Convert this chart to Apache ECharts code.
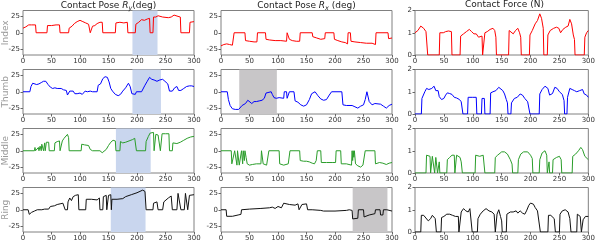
<!DOCTYPE html>
<html><head><meta charset="utf-8">
<script src="https://cdn.jsdelivr.net/npm/echarts@6/dist/echarts.min.js"></script>
<style>html,body{margin:0;padding:0;background:#fff}#c{width:598px;height:246px}</style>
</head><body><div id="c"></div>
<script>
const rowNames = ['Index','Thumb','Middle','Ring'];
const xTicks = [0,50,100,150,200,250,300];
const poseTicks = [-25,0,25];
const forceTicks = [0,1,2];

const indexRy = [[0,7],[5,9],[10,12],[15,12],[22,12],[23,0],[42,0],[43,11],[50,11],[58,12],[64,12],[65,0],[80,0],[81,7],[84,8],[86,10],[90,14],[95,17],[100,19],[105,17],[110,15],[115,13],[117,13],[118,0],[121,0],[122,10],[126,11],[130,14],[135,16],[139,16],[140,0],[162,0],[163,15],[170,16],[177,15],[183,16],[184,0],[197,0],[198,13],[203,16],[208,20],[213,19],[218,21],[222,22],[223,0],[228,0],[229,24],[233,24],[237,26],[245,24],[255,23],[260,24],[265,27],[268,28],[272,25],[276,24],[277,0],[292,0],[293,16],[296,18],[300,17]];
const indexRx = [[0,-20],[5,-18],[10,-17],[15,-18],[20,-19],[22,-20],[23,0],[42,0],[43,-12],[50,-13],[58,-14],[63,-14],[64,0],[78,0],[79,-10],[85,-11],[95,-12],[105,-12],[115,-13],[116,0],[119,0],[120,-10],[125,-12],[132,-13],[138,-13],[139,0],[160,0],[161,-6],[168,-8],[175,-10],[182,-9],[183,0],[198,0],[199,-10],[205,-12],[212,-14],[218,-15],[222,-17],[223,0],[227,0],[228,-13],[235,-14],[245,-15],[255,-16],[265,-16],[271,-18],[272,0],[293,0],[294,-9],[300,-8]];
const indexF = [[0,1.0],[5,1.1],[10,1.3],[15,1.2],[19,1.05],[21,1.0],[22,0],[42,0],[43,1.0],[46,1.05],[49,1.0],[53,1.05],[58,1.08],[61,1.1],[63,1.05],[64,0],[78,0],[79,0.85],[84,0.95],[89,1.05],[94,1.15],[98,1.05],[102,0.95],[106,0.95],[110,0.8],[113,0.85],[116,0.85],[117,0],[120,0],[121,1.0],[125,1.05],[130,1.15],[135,1.2],[138,1.1],[140,0.8],[141,0],[162,0],[163,1.1],[166,1.15],[170,0.95],[174,1.1],[178,1.2],[181,1.0],[183,0.8],[184,0],[198,0],[199,0.9],[203,1.1],[208,1.4],[212,1.55],[216,1.85],[219,1.65],[222,1.2],[223,0],[229,0],[230,0.9],[234,1.1],[240,1.2],[245,1.25],[249,1.2],[252,1.0],[256,1.15],[261,1.25],[265,1.3],[268,1.6],[271,1.4],[274,0.9],[276,0.7],[277,0],[293,0],[294,0.8],[297,1.0],[300,1.1]];

const thumbRy = [[0,0],[12,0],[14,8],[17,13],[20,15],[24,11],[28,12],[32,14],[36,16],[40,16],[44,11],[48,7],[52,5],[56,6],[60,5],[63,4],[67,5],[71,3],[76,2],[78,-5],[80,-4],[82,1],[88,1],[91,-3],[95,-3],[100,-2],[104,-4],[106,-3],[109,1],[113,0],[118,1],[122,0],[130,0],[132,10],[136,12],[140,20],[144,23],[148,22],[151,15],[154,5],[157,1],[162,-4],[167,-6],[171,-4],[175,1],[180,6],[185,13],[188,8],[191,-3],[194,-6],[197,-4],[199,0],[208,0],[210,2],[214,10],[218,16],[222,22],[226,19],[230,18],[235,16],[240,18],[245,19],[249,16],[254,12],[257,1],[262,1],[266,6],[270,8],[273,2],[277,2],[282,5],[287,8],[292,9],[296,9],[300,8]];
const thumbRx = [[0,0],[11,0],[13,-12],[16,-21],[20,-26],[25,-27],[31,-27],[34,-24],[37,-21],[40,-22],[43,-18],[47,-13],[50,-15],[54,-18],[58,-15],[62,-15],[67,-14],[72,-13],[76,-10],[79,-2],[82,0],[88,0],[90,-4],[93,-9],[97,-10],[102,-9],[110,-10],[111,0],[115,0],[116,-10],[119,-10],[120,0],[128,0],[130,-14],[135,-16],[140,-20],[145,-22],[150,-20],[155,-12],[159,-3],[162,0],[165,0],[170,-6],[175,-11],[180,-13],[185,-12],[190,-5],[194,0],[212,0],[214,-20],[220,-21],[230,-21],[235,-23],[240,-25],[245,-22],[250,-20],[253,-12],[256,0],[258,-2],[260,-15],[265,-20],[270,-18],[280,-19],[285,-22],[290,-25],[295,-21],[300,-19]];
const thumbF = [[0,0],[11,0],[12,0.7],[14,0.75],[17,1.0],[20,1.15],[24,1.1],[29,1.15],[33,1.25],[36,1.05],[40,1.05],[42,0.78],[46,0.65],[50,0.7],[53,0.85],[56,0.95],[60,0.92],[64,0.88],[68,0.75],[72,0.72],[77,0.65],[80,0.55],[82,0.5],[83,0],[91,0],[92,0.75],[95,0.8],[100,0.75],[106,0.75],[107,0],[115,0],[116,0.7],[118,0.75],[120,0.7],[121,0],[130,0],[131,0.95],[135,1.0],[140,1.05],[145,1.2],[148,1.25],[152,1.05],[155,0.9],[158,0.65],[160,0.5],[161,0],[166,0],[167,0.5],[172,0.7],[177,0.75],[182,0.9],[186,0.85],[190,0.7],[195,0.55],[198,0.5],[199,0],[215,0],[216,0.9],[220,1.1],[225,1.25],[230,1.15],[233,0.85],[238,0.92],[242,1.2],[246,1.15],[250,1.0],[255,0.88],[258,0.6],[259,0],[263,0],[264,0.75],[268,1.15],[272,1.1],[276,1.05],[280,1.0],[285,1.05],[290,1.1],[293,0.9],[297,0.85],[300,0.75]];

const middleRy = [[0,0],[20,0],[21,5],[22,0],[24,3],[27,5],[28,0],[30,7],[31,10],[32,0],[33,10],[35,13],[36,0],[38,12],[39,0],[41,13],[45,13],[46,0],[55,0],[56,12],[60,14],[64,15],[65,0],[68,0],[69,15],[72,19],[75,22],[78,25],[80,20],[81,0],[102,0],[103,10],[108,9],[115,8],[118,2],[122,0],[135,0],[139,-3],[142,-2],[146,2],[150,8],[154,13],[158,16],[162,15],[163,0],[170,0],[171,14],[175,12],[180,13],[186,15],[192,17],[196,19],[198,16],[199,0],[215,0],[216,14],[220,22],[223,27],[226,26],[229,28],[230,0],[232,0],[233,25],[237,24],[240,23],[241,0],[243,0],[244,26],[250,26],[256,26],[257,0],[262,0],[263,12],[270,11],[276,13],[282,16],[288,19],[294,21],[300,22]];
const middleRx = [[0,0],[18,0],[19,-20],[22,-22],[24,0],[27,0],[28,-22],[29,0],[31,0],[32,-22],[35,-22],[36,0],[38,-20],[39,0],[41,-15],[42,0],[44,-10],[46,-20],[50,-22],[55,-21],[62,-20],[70,-20],[71,0],[73,0],[74,-20],[80,-22],[83,-21],[84,0],[102,0],[103,-20],[110,-22],[118,-20],[120,-20],[121,0],[138,0],[139,-15],[145,-16],[150,-16],[155,-17],[160,-19],[164,-20],[167,-15],[169,0],[175,0],[176,-18],[185,-18],[195,-18],[201,-18],[202,0],[210,0],[211,-20],[220,-20],[229,-22],[230,0],[231,-15],[232,0],[233,-10],[234,0],[236,-20],[240,-23],[245,-25],[249,-22],[252,-20],[253,0],[270,0],[271,-20],[278,-18],[284,-19],[290,-21],[295,-19],[300,-18]];
const middleF = [[0,0],[19,0],[20,0.8],[23,0.8],[26,0.75],[27,0],[29,0],[30,0.75],[33,0.75],[34,0],[36,0.7],[38,0.75],[39,0],[41,0],[42,0.5],[43,0],[55,0],[56,0.6],[60,0.7],[64,0.8],[68,0.8],[69,0],[71,0],[72,0.8],[75,0.85],[78,0.7],[80,0.5],[82,0],[104,0],[105,0.8],[107,0.85],[112,0.75],[118,0.8],[120,0.8],[121,0],[138,0],[139,0.7],[143,0.8],[150,0.95],[155,0.95],[160,0.85],[165,0.6],[168,0.4],[169,0],[178,0],[179,0.6],[183,0.85],[188,0.95],[195,0.95],[200,0.8],[203,0.65],[204,0],[215,0],[216,0.6],[220,0.9],[225,1.0],[228,0.8],[229,0],[231,0],[232,0.5],[233,0],[238,0],[239,0.6],[245,0.7],[250,0.75],[253,0.6],[254,0],[272,0],[273,0.75],[278,0.85],[283,1.0],[287,1.15],[290,1.05],[294,0.75],[298,0.65],[300,0.6]];

const ringRy = [[0,0],[9,0],[11,-7],[15,-4],[20,-2],[25,0],[33,0],[35,3],[38,1],[45,1],[48,5],[55,6],[60,8],[65,9],[70,10],[73,11],[74,0],[78,0],[79,12],[82,18],[85,14],[88,20],[92,22],[95,25],[97,23],[98,0],[110,0],[111,16],[120,16],[130,15],[134,18],[135,0],[140,0],[141,20],[146,22],[147,0],[149,0],[150,22],[154,23],[155,0],[156,16],[165,16],[175,17],[180,20],[190,23],[200,26],[210,30],[214,28],[216,0],[228,0],[229,10],[235,12],[237,0],[245,0],[247,12],[255,18],[260,21],[262,0],[270,0],[272,25],[275,26],[277,0],[283,0],[285,25],[288,26],[289,0],[291,0],[292,22],[300,23]];
const ringRx = [[0,0],[9,0],[10,-10],[20,-10],[30,-8],[35,-7],[36,0],[50,1],[70,2],[85,3],[90,4],[95,2],[100,5],[103,3],[106,3],[110,10],[120,8],[130,7],[135,9],[137,0],[140,0],[142,8],[150,9],[152,0],[160,0],[175,-1],[180,-2],[200,-2],[220,-1],[225,0],[230,-1],[231,-14],[240,-13],[241,0],[250,0],[251,-11],[260,-8],[270,-6],[271,0],[279,0],[280,-8],[284,-8],[285,0],[291,0],[293,-3],[300,-2]];
const ringF = [[0,0],[10,0],[11,0.75],[15,0.75],[18,0.7],[23,0.5],[27,0.6],[30,0.75],[33,0.8],[35,0.6],[37,0],[45,0],[46,0.65],[50,0.7],[55,0.8],[60,0.8],[65,0.75],[70,0.7],[75,0.7],[76,0],[78,0],[80,0.9],[84,1.05],[88,0.95],[92,0.9],[95,1.05],[97,1.0],[99,0],[108,0],[109,0.6],[113,0.8],[118,0.95],[123,1.05],[128,0.95],[133,0.9],[137,0.8],[139,0],[141,0],[142,0.8],[145,1.0],[148,0.7],[150,0.5],[151,0],[158,0],[159,0.8],[165,0.9],[170,0.9],[175,0.95],[178,0.85],[182,0.95],[186,0.85],[190,0.8],[193,0.95],[197,1.2],[200,1.3],[205,1.25],[208,1.1],[212,0.95],[215,0.95],[217,0],[230,0],[231,0.75],[235,0.75],[238,0.8],[241,0.6],[243,0],[250,0],[251,0.8],[255,0.95],[260,1.0],[265,0.9],[268,0.6],[270,0],[280,0],[281,0.8],[283,0.85],[286,0.7],[288,0],[290,0],[291,0.55],[295,0.7],[300,0.7]];

// shaded x-ranges [start, end] per panel (null = none)
const shadeRy = [[192,236],[192,242],[163,224],[154,215]];
const shadeRx = [null,[32,98],null,[231,292]];

const rowData = [
  [indexRy, indexRx, indexF],
  [thumbRy, thumbRx, thumbF],
  [middleRy, middleRx, middleF],
  [ringRy, ringRx, ringF]
];
const rowColors = ['#ff0000','#0000ff','#2a9d2a','#111111'];

const colLeft = [23, 221, 415];
const colWidth = [171, 171, 179];
const rowTop = [10.5, 69.5, 128.5, 187.5];
const rowH = 44.5;
const FONT = 'DejaVu Sans';

const grids = [], xAxes = [], yAxes = [], series = [], graphics = [];
let k = 0;
for (let r = 0; r < 4; r++) {
  for (let c = 0; c < 3; c++) {
    grids.push({left: colLeft[c], top: rowTop[r], width: colWidth[c], height: rowH,
      show: true, borderColor: '#808080', borderWidth: 1, backgroundColor: 'transparent'});
    xAxes.push({type: 'value', gridIndex: k, min: 0, max: 300, interval: 50, position: 'bottom',
      axisLine: {show: false, onZero: false}, splitLine: {show: false},
      axisTick: {show: true, length: 2.5, lineStyle: {color: '#666'}},
      axisLabel: {fontSize: 7, color: '#333', margin: 3, fontFamily: FONT, showMinLabel: true, showMaxLabel: true}});
    const isF = c === 2;
    yAxes.push({type: 'value', gridIndex: k, min: isF ? 0 : -34, max: isF ? 2 : 34, position: 'left',
      axisLine: {show: false, onZero: false}, splitLine: {show: false},
      axisTick: {show: true, length: 2.5, lineStyle: {color: '#666'}, customValues: isF ? forceTicks : poseTicks},
      axisLabel: {fontSize: 7, color: '#333', margin: 3, fontFamily: FONT, customValues: isF ? forceTicks : poseTicks}});
    const s = {type: 'line', xAxisIndex: k, yAxisIndex: k, data: rowData[r][c],
      showSymbol: false, symbol: 'none', animation: false,
      lineStyle: {color: rowColors[r], width: 1}, itemStyle: {color: rowColors[r]}, z: 3};
    let sh = null, shColor = null;
    if (c === 0 && shadeRy[r]) { sh = shadeRy[r]; shColor = '#c9d6ee'; }
    if (c === 1 && shadeRx[r]) { sh = shadeRx[r]; shColor = '#c8c6c8'; }
    if (sh) {
      s.markArea = {silent: true, itemStyle: {color: shColor, opacity: 1}, data: [[{xAxis: sh[0]}, {xAxis: sh[1]}]]};
    }
    series.push(s);
    k++;
  }
  graphics.push({type: 'text', x: 6, y: rowTop[r] + rowH / 2, rotation: Math.PI / 2,
    style: {text: rowNames[r], fill: '#9a9a9a', font: '9px "DejaVu Sans"', align: 'center', verticalAlign: 'middle'}});
}

const titleStyle = {fontSize: 9, color: '#222', fontFamily: FONT, fontWeight: 'normal'};
const titles = [
  {text: '{n|Contact Pose }{i|R}{s|y}{n|(deg)}', x: 108.5},
  {text: '{n|Contact Pose }{i|R}{s|x}{n| (deg)}', x: 306.5},
  {text: '{n|Contact Force (N)}', x: 504.5}
].map(t => ({
  text: t.text, left: t.x, top: 0, textAlign: 'center', padding: 0,
  textStyle: Object.assign({}, titleStyle, {rich: {
    n: {fontSize: 9, color: '#222', fontFamily: FONT},
    i: {fontSize: 9, color: '#222', fontFamily: FONT, fontStyle: 'italic'},
    s: {fontSize: 6.5, color: '#222', fontFamily: FONT, fontStyle: 'italic', padding: [5, 0, 0, 0]}
  }})
}));

const chart = echarts.init(document.getElementById('c'), null, {renderer: 'canvas'});
chart.setOption({
  animation: false,
  title: titles,
  grid: grids, xAxis: xAxes, yAxis: yAxes, series: series, graphic: graphics
});
</script></body></html>
